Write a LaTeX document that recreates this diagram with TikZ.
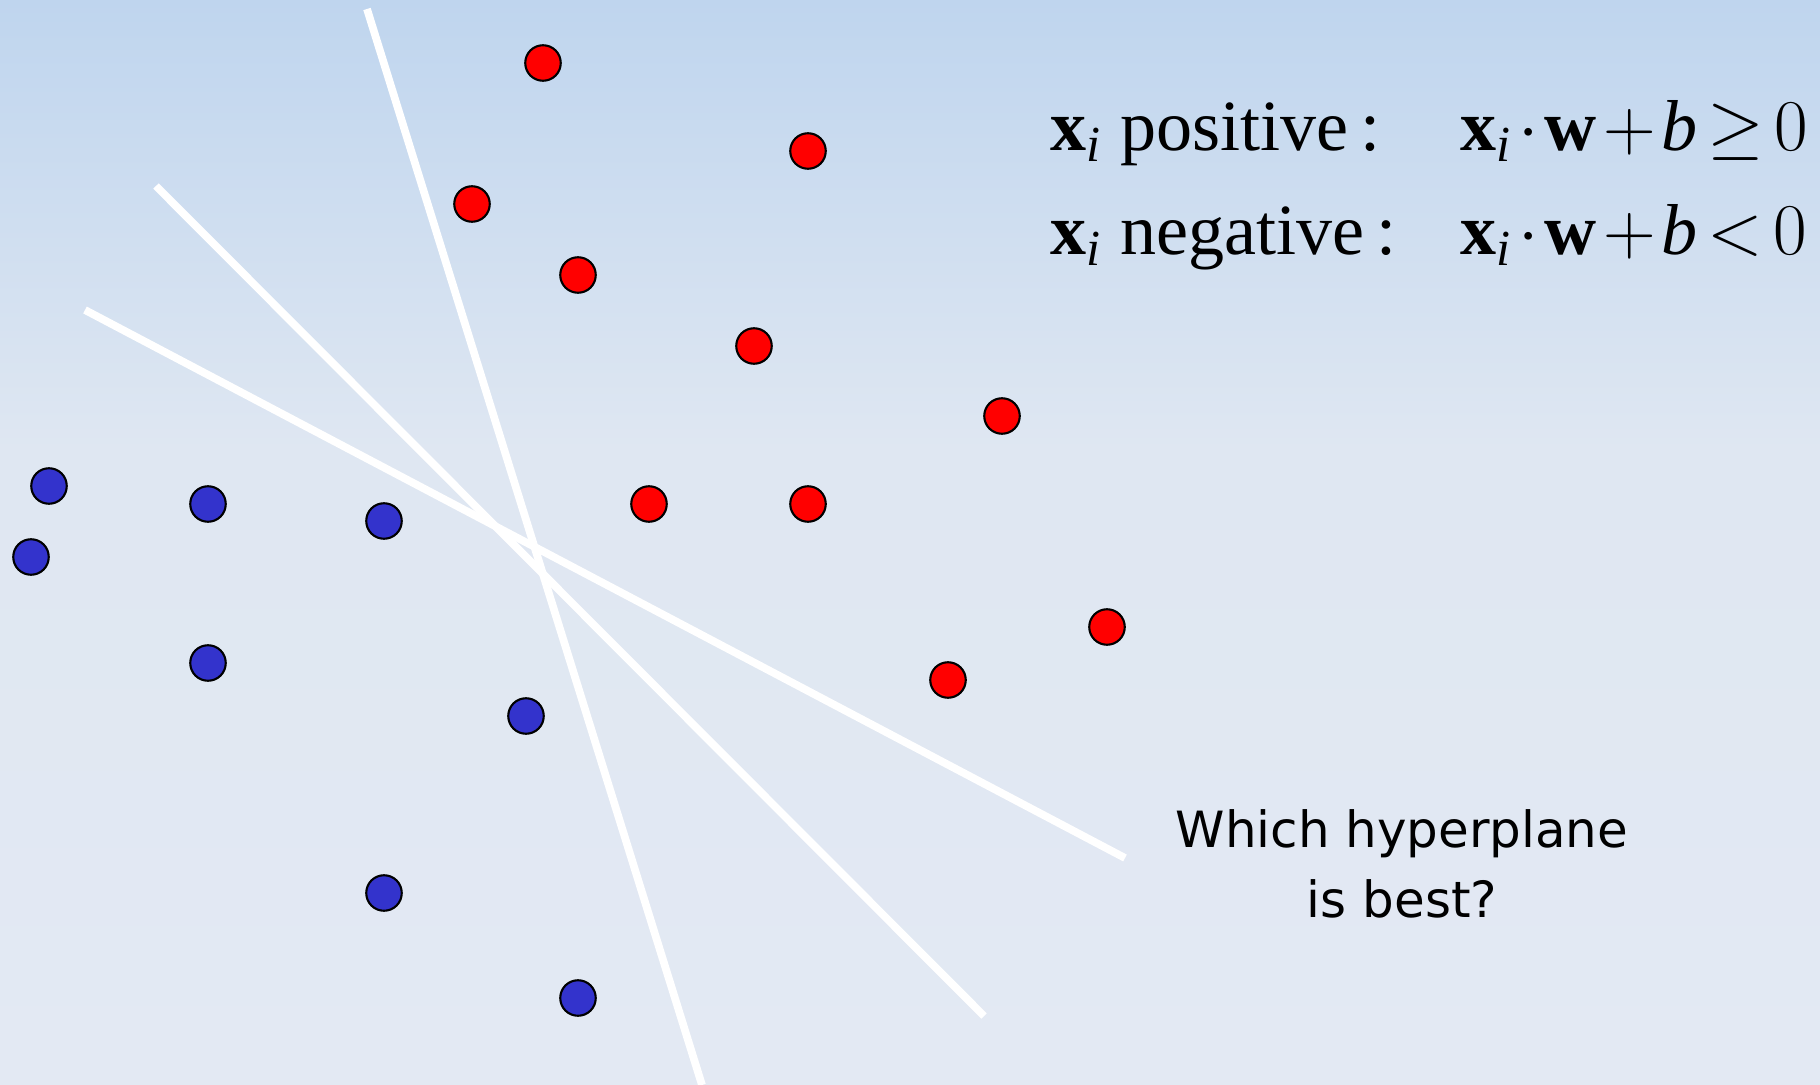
\documentclass[tikz,border=0pt]{standalone}
\usepackage{amsmath,amssymb}
\usepackage{fontspec}
\setmainfont{Liberation Serif}
\newfontfamily\questionfont{DejaVu Sans}
\usepackage{tikz}
\usetikzlibrary{positioning}
\definecolor{bgtop}{HTML}{BFD5EE}
\definecolor{bgmid}{HTML}{DFE7F2}
\definecolor{bgbot}{HTML}{E3E9F3}
\definecolor{posred}{HTML}{FF0000}
\definecolor{negblue}{HTML}{3333CC}
\newcommand{\tightmath}{\medmuskip=1.5mu\relax\thickmuskip=2.5mu\relax}
\tikzset{
  sample/.style={circle,draw=black,line width=0.6pt,minimum size=0.355cm,inner sep=0pt},
  posdot/.style={sample,fill=posred},
  negdot/.style={sample,fill=negblue},
  hyperplane/.style={white,line width=2.2pt},
  rulelabel/.style={anchor=base west,inner sep=0pt,
    font=\fontsize{20.5}{24}\selectfont\tightmath},
  question/.style={anchor=base,inner sep=0pt,font=\questionfont\fontsize{14.2}{18}\selectfont}
}

\begin{document}
\begin{tikzpicture}[x=0.01cm,y=-0.01cm]
\useasboundingbox (0,0) rectangle (1820,1085);
\shade[top color=bgtop,bottom color=bgmid] (0,0) rectangle (1820,450);
\shade[top color=bgmid,bottom color=bgbot] (0,450) rectangle (1820,1085);

% Three candidate separating lines.
\coordinate (hA1) at (367,9);   \coordinate (hA2) at (702,1085);
\coordinate (hB1) at (156,186); \coordinate (hB2) at (984,1016);
\coordinate (hC1) at (85,310);  \coordinate (hC2) at (1125,858);
\draw[hyperplane] (hA1) -- (hA2);
\draw[hyperplane] (hB1) -- (hB2);
\draw[hyperplane] (hC1) -- (hC2);

% Positive samples
\foreach \px/\py [count=\k] in {543/63,808/151,472/204,578/275,754/346,
    1002/416,649/504,808/504,1107/627,948/680}
  \node[posdot] (pos\k) at (\px,\py) {};
% Negative samples
\foreach \px/\py [count=\k] in {49/486,31/557,208/504,384/521,208/663,
    526/716,384/893,578/998}
  \node[negdot] (neg\k) at (\px,\py) {};

\node[rulelabel] (posl) at (1050,151) {$\mathbf{x}_{\mathit{i}}$ positive\,:};
\node[rulelabel] (posr) at (1460,151)
  {$\mathbf{x}_{\mathit{i}}\cdot\mathbf{w}+\mathit{b}\geq 0$};
\node[rulelabel] (negl) at (1050,255) {$\mathbf{x}_{\mathit{i}}$ negative\,:};
\node[rulelabel] (negr) at (1460,255)
  {$\mathbf{x}_{\mathit{i}}\cdot\mathbf{w}+\mathit{b}<0$};

\node[question] (q1) at (1402,847) {Which hyperplane};
\node[question] (q2) at (1402,917) {is best?};
\end{tikzpicture}
\end{document}
